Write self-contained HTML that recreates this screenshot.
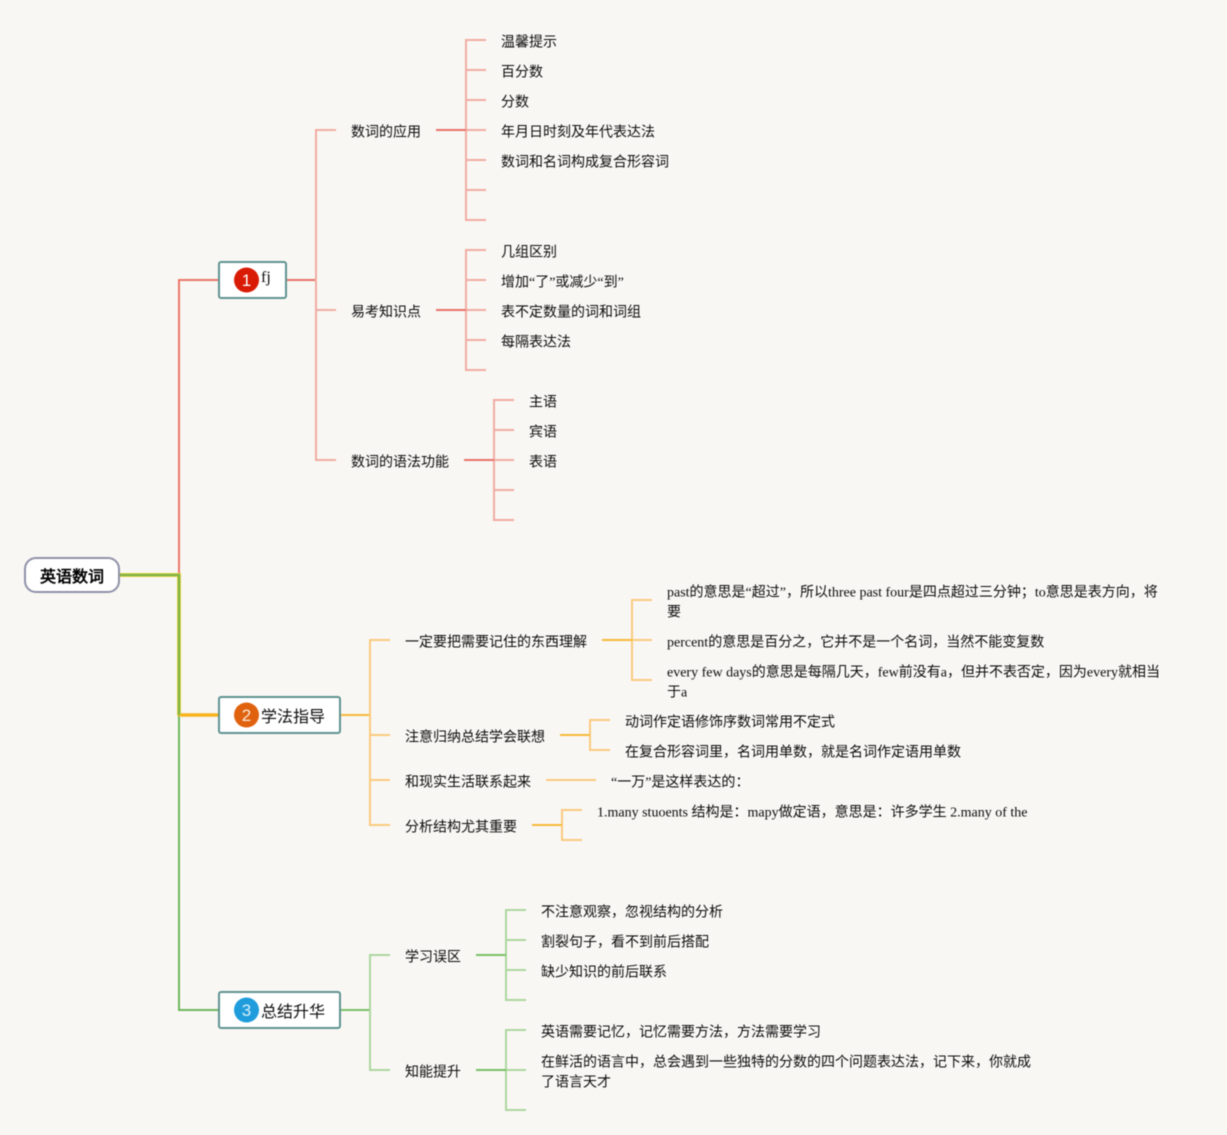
<!DOCTYPE html>
<html lang="zh">
<head>
<meta charset="utf-8">
<style>
html,body{margin:0;padding:0;background:#f9f7f4;}
svg{display:block;filter:blur(0.4px);}
text{font-family:"Liberation Serif","WenQuanYi Zen Hei",serif;font-size:14px;fill:#0c0c0c;}
.s{font-family:"Liberation Sans","WenQuanYi Zen Hei",sans-serif;}
.n{font-size:16px;}
.i{font-family:"Liberation Sans",sans-serif;font-size:17px;text-anchor:middle;}
.j{font-family:"Noto Sans CJK JP",sans-serif;}
.r{fill:none;stroke:#f0aca2;stroke-width:2;}
.rd{fill:none;stroke:#e8736a;stroke-width:2;}
.o{fill:none;stroke:#f9cb7e;stroke-width:2;}
.od{fill:none;stroke:#f7ba38;stroke-width:2;}
.g{fill:none;stroke:#add69d;stroke-width:2;}
.gd{fill:none;stroke:#78bf65;stroke-width:2;}
</style>
</head>
<body>
<svg width="1227" height="1135" viewBox="0 0 1227 1135" xmlns="http://www.w3.org/2000/svg">
<rect width="1227" height="1135" fill="#f9f7f4"/>

<!-- root connectors -->
<path d="M179 575V280H219" fill="none" stroke="#ec7868" stroke-width="2"/>
<path d="M179 575V1010H219" fill="none" stroke="#6db75e" stroke-width="2"/>
<path d="M179 575V715H219" fill="none" stroke="#f7b825" stroke-width="3"/>
<path d="M119 575H179V715" fill="none" stroke="#f2d93a" stroke-width="4"/>
<path d="M119 575H179V715" fill="none" stroke="#80b448" stroke-width="2.5"/>
<path d="M181 715H219" fill="none" stroke="#f7b51c" stroke-width="3.5"/>

<!-- branch 1 -->
<path class="rd" d="M286 280H316"/>
<path class="r" d="M336 130H316V460H336M316 310H336"/>
<path class="r" d="M486 40H466V220H486M466 70H486M466 100H486M466 130H486M466 160H486M466 190H486"/>
<path class="rd" d="M436 130H466"/>
<path class="r" d="M486 250H466V370H486M466 280H486M466 310H486M466 340H486"/>
<path class="rd" d="M436 310H466"/>
<path class="r" d="M514 400H494V520H514M494 430H514M494 460H514M494 490H514"/>
<path class="rd" d="M464 460H494"/>

<!-- branch 2 -->
<path class="od" d="M340 715H370"/>
<path class="o" d="M390 640H370V825H390M370 735H390M370 780H390"/>
<path class="o" d="M652 600H632V680H652M632 640H652"/>
<path class="od" d="M602 640H632"/>
<path class="o" d="M610 720H590V750H610"/>
<path class="od" d="M560 735H590"/>
<path class="o" d="M546 780H596"/>
<path class="o" d="M582 810H562V840H582"/>
<path class="od" d="M532 825H562"/>

<!-- branch 3 -->
<path class="gd" d="M340 1010H370"/>
<path class="g" d="M390 955H370V1070H390"/>
<path class="g" d="M526 910H506V1000H526M506 940H526M506 970H526"/>
<path class="gd" d="M476 955H506"/>
<path class="g" d="M526 1030H506V1110H526M506 1070H526"/>
<path class="gd" d="M476 1070H506"/>

<!-- root node -->
<rect x="25" y="558" width="94" height="34" rx="11" fill="#fff" stroke="#8f92a8" stroke-width="2"/>
<text x="72" y="582" class="s" style="font-size:16px;font-weight:bold;fill:#000" text-anchor="middle">英语数词</text>

<!-- main nodes -->
<rect x="219" y="262" width="67" height="36" rx="2" fill="#fff" stroke="#5f9490" stroke-width="2"/>
<circle cx="246.5" cy="280" r="12.5" fill="#d91a05"/>
<text x="246.5" y="286" class="i" style="fill:#fff">1</text>
<text x="261" y="282" class="n">fj</text>

<rect x="219" y="697" width="121" height="36" rx="2" fill="#fff" stroke="#5f9490" stroke-width="2"/>
<circle cx="246.5" cy="715" r="12.5" fill="#e0620e"/>
<text x="246.5" y="721" class="i" style="fill:#fbe7d6">2</text>
<text x="261" y="722" class="n">学法指导</text>

<rect x="219" y="992" width="121" height="36" rx="2" fill="#fff" stroke="#5f9490" stroke-width="2"/>
<circle cx="246.5" cy="1010" r="12.5" fill="#1f9cdc"/>
<text x="246.5" y="1016" class="i" style="fill:#d9f0fb">3</text>
<text x="261" y="1017" class="n">总结升华</text>

<!-- labels -->
<g transform="translate(0,0.7)">
<text x="351" y="136">数词的应用</text>
<text x="351" y="316">易考知识点</text>
<text x="351" y="466">数词的语法功能</text>

<text x="501" y="46">温馨提示</text>
<text x="501" y="76">百分数</text>
<text x="501" y="106">分数</text>
<text x="501" y="136">年月日时刻及年代表达法</text>
<text x="501" y="166">数词和名词构成复合形容词</text>

<text x="501" y="256">几组区别</text>
<text x="501" y="286">增加“了”或减少“到”</text>
<text x="501" y="316">表不定数量的词和词组</text>
<text x="501" y="346">每隔表达法</text>

<text x="529" y="406">主语</text>
<text x="529" y="436">宾语</text>
<text x="529" y="466">表语</text>

<text x="405" y="646">一定要把需要记住的东西理解</text>
<text x="405" y="741">注意归纳总结学会联想</text>
<text x="405" y="786">和现实生活联系起来</text>
<text x="405" y="831">分析结构尤其重要</text>

<text x="667" y="596">past的意思是“超过”，所以three past four是四点超过三分钟<tspan class="j">；</tspan>to意思是表方向，将</text>
<text x="667" y="616">要</text>
<text x="667" y="646">percent的意思是百分之，它并不是一个名词，当然不能变复数</text>
<text x="667" y="676">every few days的意思是每隔几天，few前没有a，但并不表否定，因为every就相当</text>
<text x="667" y="696">于a</text>

<text x="625" y="726">动词作定语修饰序数词常用不定式</text>
<text x="625" y="756">在复合形容词里，名词用单数，就是名词作定语用单数</text>
<text x="611" y="786">“一万”是这样表达的<tspan class="j">：</tspan></text>
<text x="597" y="816">1.many stuoents 结构是<tspan class="j">：</tspan>mapy做定语，意思是<tspan class="j">：</tspan>许多学生 2.many of the</text>

<text x="405" y="961">学习误区</text>
<text x="405" y="1076">知能提升</text>

<text x="541" y="916">不注意观察，忽视结构的分析</text>
<text x="541" y="946">割裂句子，看不到前后搭配</text>
<text x="541" y="976">缺少知识的前后联系</text>

<text x="541" y="1036">英语需要记忆，记忆需要方法，方法需要学习</text>
<text x="541" y="1066">在鲜活的语言中，总会遇到一些独特的分数的四个问题表达法，记下来，你就成</text>
<text x="541" y="1086">了语言天才</text>
</g>
</svg>
</body>
</html>
